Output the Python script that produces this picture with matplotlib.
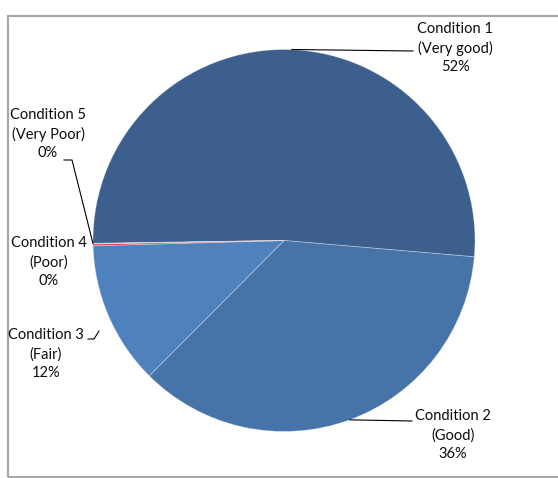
import numpy as np
import matplotlib
matplotlib.use("Agg")
import matplotlib.pyplot as plt
from matplotlib.patches import Rectangle

categories = ["Condition 1\n(Very good)", "Condition 2\n(Good)", "Condition 3\n(Fair)",
              "Condition 4\n(Poor)", "Condition 5\n(Very Poor)"]
values = [51.6, 36.1, 12.1, 0.15, 0.05]
colors = ["#3C5F8D", "#4674A8", "#4F81BD", "#E8323C", "#A9BCDD"]

W, H = 558, 478
fig = plt.figure(figsize=(W / 100, H / 100), dpi=100)
ax = fig.add_axes([0, 0, 1, 1])
plt.rcParams['font.family'] = ['Lato', 'DejaVu Sans']

cx, cy, r = 284, H - 240.5, 191
wedges, _ = ax.pie(values, colors=colors, startangle=180.86, counterclock=False,
                   center=(cx, cy), radius=r,
                   wedgeprops=dict(edgecolor=(1, 1, 1, 0.35), linewidth=0.6))
ax.set_xlim(0, W)
ax.set_ylim(0, H)
ax.set_aspect('equal')
ax.axis('off')

total = sum(values)
pcts = [f"{int(np.floor(v / total * 100 + 0.5))}%" for v in values]
labels = [f"{c}\n{p}" for c, p in zip(categories, pcts)]

def edge_point(w, frac=0.5):
    a = np.deg2rad(w.theta1 + (w.theta2 - w.theta1) * frac)
    return cx + r * np.cos(a), cy + r * np.sin(a)

fs = 10.5
tk = dict(fontsize=fs, ha='center', va='center', linespacing=1.42, color='#0D0D0D')

# Condition 1: leader from top of pie to label
p1 = (cx + 8, cy + r)
ax.text(455, H - 48, labels[0], **tk)
ax.plot([p1[0], 413], [p1[1], H - 51], color='black', lw=0.8)

# Condition 2
p2 = edge_point(wedges[1], 0.5)
ax.text(453, H - 435, labels[1], **tk)
ax.plot([p2[0], 412], [p2[1], H - 421], color='black', lw=0.8)

# Condition 3
ax.text(46, H - 354, labels[2], **tk)
ax.plot([88, 94, 99], [H - 339, H - 339, H - 331], color='black', lw=0.8)

# Condition 4
ax.text(49, H - 262, labels[3], **tk)

# Condition 5
p5 = edge_point(wedges[4], 0.5)
ax.text(48, H - 134, labels[4], **tk)
ax.plot([64, 72, p5[0]], [H - 160, H - 160, p5[1]], color='black', lw=0.8)

# chart frame
ax.add_patch(Rectangle((7.5, 1.5), 560, H - 17, fill=False, edgecolor='#A6A6A6',
                       lw=1.5, clip_on=False))

fig.savefig("out.png", dpi=100)
